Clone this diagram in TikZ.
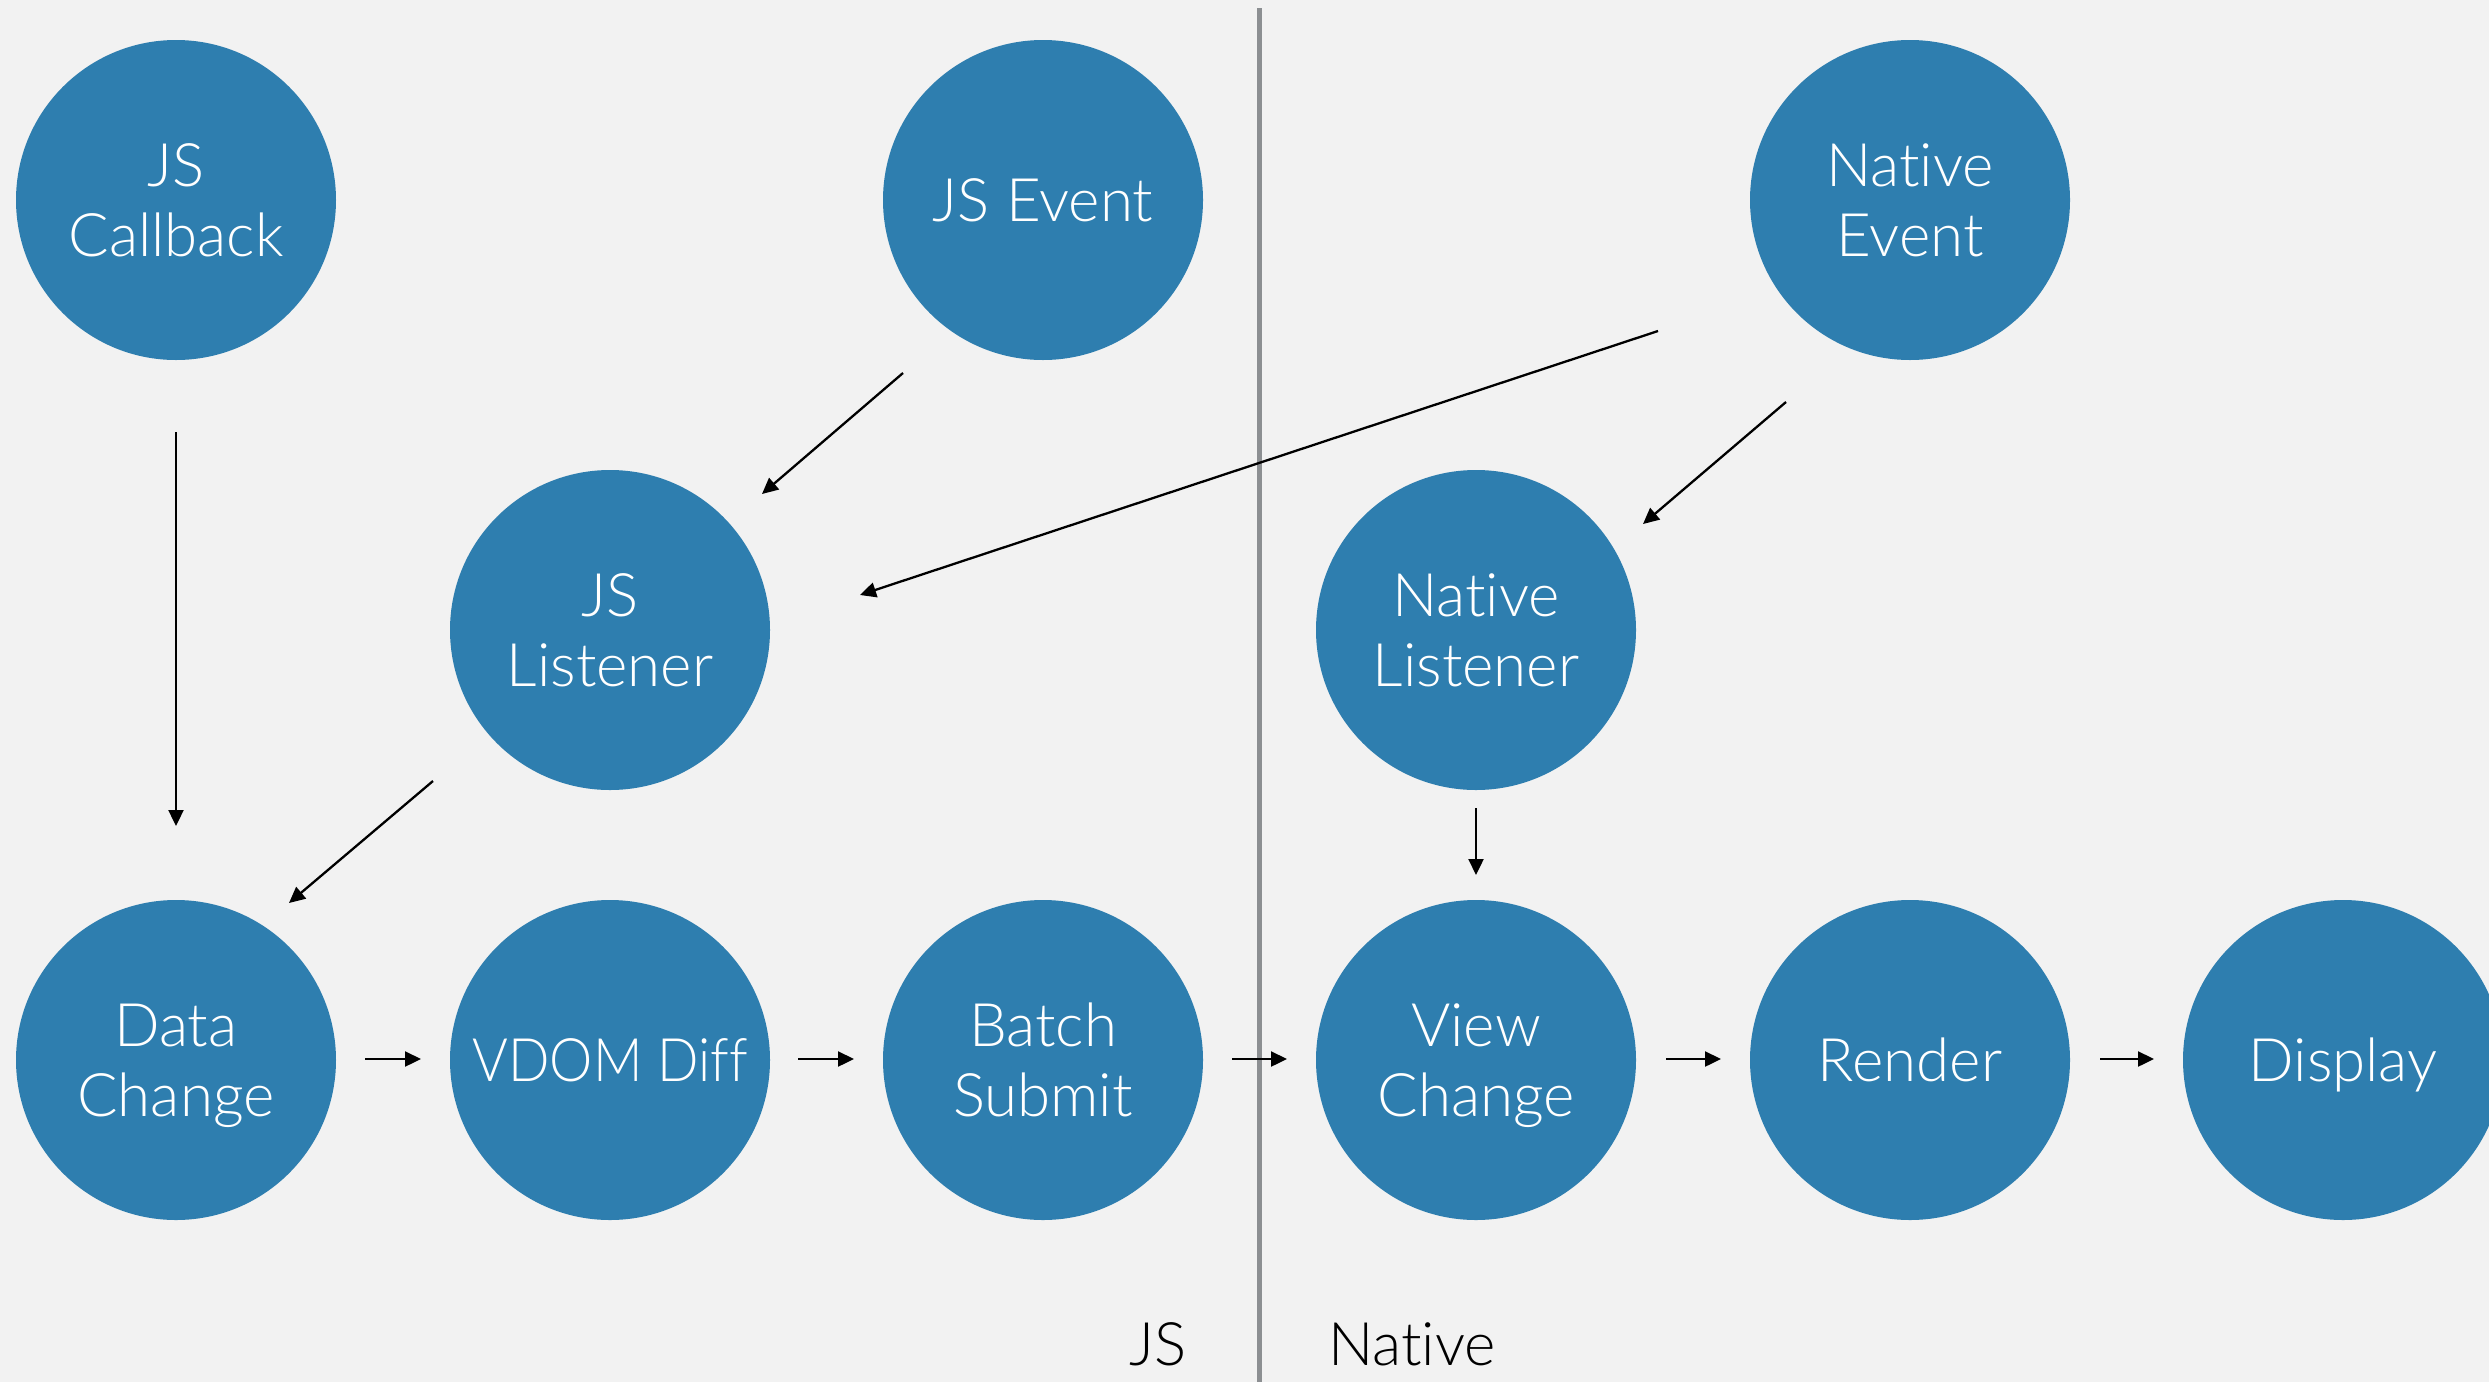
\documentclass[tikz,border=0pt]{standalone}
\usepackage{fontspec}
\usepackage{graphicx}
\IfFontExistsTF{Lato Light}{\setmainfont{Lato Light}[Ligatures={NoCommon}]}{\setmainfont{TeX Gyre Heros}}
\usetikzlibrary{arrows.meta,calc}
\definecolor{bg}{RGB}{242,242,242}
\definecolor{bubble}{RGB}{46,126,175}
\definecolor{divider}{RGB}{140,143,146}
\tikzset{
  bub/.style={circle, fill=bubble, draw=none, minimum size=320pt, inner sep=0pt,
    text=white, font=\fontsize{60}{70}\selectfont, align=center, text depth=0pt},
  one/.style={bub, text height=42pt},
  two/.style={bub, text height=112pt},
  conn/.style={line width=2.3pt, draw=black, -{Triangle[length=16pt,width=15pt]}},
  side/.style={anchor=base, text=black, font=\fontsize{60}{70}\selectfont},
}
\begin{document}
\begin{tikzpicture}[x=1pt,y=-1pt]
\fill[bg] (0,0) rectangle (2489,1382);
\useasboundingbox (0,0) rectangle (2489,1382);
% divider
\coordinate (dtop) at (1259,8);
\coordinate (dbot) at (1259,1382);
\draw[divider, line width=5pt] (dtop) -- (dbot);
% nodes
\node[two] (jscb) at (176,200) {JS\\Callback};
\node[one] (jsev) at (1043,200) {JS Event};
\node[two] (nev)  at (1910,200) {Native\\Event};
\node[two] (jsl)  at (610,630) {JS\\Listener};
\node[two] (nl)   at (1476,630) {Native\\Listener};
\node[two] (dc)   at (176,1060) {Data\\Change};
\node[one] (vd)   at (610,1060) {\scalebox{0.91}[1]{VDOM Diff}};
\node[two] (bs)   at (1043,1060) {Batch\\Submit};
\node[two] (vc)   at (1476,1060) {View\\Change};
\node[one] (rn)   at (1910,1060) {Render};
\node[one] (dp)   at (2343,1060) {Display};
% side labels
\node[side] (jslbl)  at (1158,1365) {JS};
\node[side] (natlbl) at (1412,1365) {Native};
% connectors
\draw[conn] ($(jscb)+(0,232)$) -- ($(dc)+(0,-234)$);
\draw[conn] ($(jsev)+(-140,173)$) -- ($(jsl)+(152,-136)$);
\draw[conn] ($(nev)+(-252,131)$) -- ($(jsl)+(250,-35)$);
\draw[conn] ($(nev)+(-124,202)$) -- ($(nl)+(167,-106)$);
\draw[conn] ($(jsl)+(-177,151)$) -- ($(dc)+(113,-157)$);
\draw[conn] ($(nl)+(0,178)$) -- ($(vc)+(0,-185)$);
\draw[conn] ($(dc)+(189,-1)$) -- ($(vd)+(-189,-1)$);
\draw[conn] ($(vd)+(188,-1)$) -- ($(bs)+(-189,-1)$);
\draw[conn] ($(bs)+(189,-1)$) -- ($(vc)+(-189,-1)$);
\draw[conn] ($(vc)+(190,-1)$) -- ($(rn)+(-189,-1)$);
\draw[conn] ($(rn)+(190,-1)$) -- ($(dp)+(-189,-1)$);
\end{tikzpicture}
\end{document}
